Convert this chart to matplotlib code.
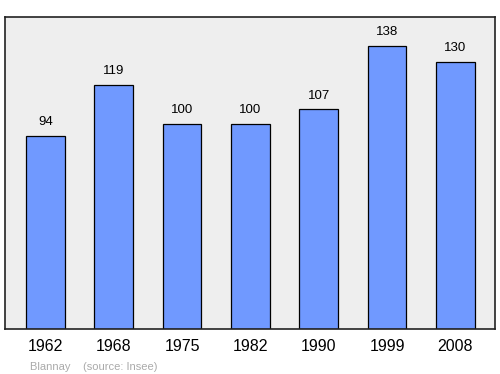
import matplotlib.pyplot as plt

years = ['1962', '1968', '1975', '1982', '1990', '1999', '2008']
population = [94, 119, 100, 100, 107, 138, 130]

plt.rcParams['font.family'] = ['Liberation Sans', 'DejaVu Sans']

fig = plt.figure(figsize=(5, 3.74), dpi=100)
ax = fig.add_axes([0.01, 0.1203, 0.98, 0.8342])
ax.set_facecolor('#eeeeee')

x = list(range(len(years)))
ax.bar(x, population, width=0.57, color='#7099ff', edgecolor='black', linewidth=0.9)
for xi, v in zip(x, population):
    ax.text(xi, v + 3.8, str(v), ha='center', va='bottom', fontsize=9.5)

ax.set_xlim(-0.59, 6.58)
ax.set_ylim(0, 152)
ax.set_xticks(x)
ax.set_xticklabels(years, fontsize=11.5)
ax.tick_params(axis='x', length=0, pad=7.5)
ax.set_yticks([])
for s in ax.spines.values():
    s.set_linewidth(1.2)
    s.set_color('#222222')

fig.text(0.06, 0.012, 'Blannay    (source: Insee)', fontsize=8, color='#aaaaaa')

fig.savefig('out.png', dpi=100)
